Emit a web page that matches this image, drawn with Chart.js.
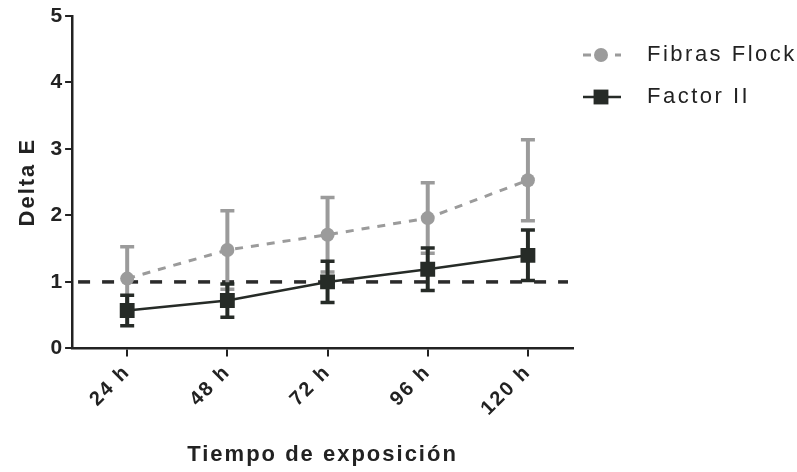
<!DOCTYPE html>
<html><head><meta charset="utf-8">
<script src="https://cdn.jsdelivr.net/npm/chart.js@4/dist/chart.umd.min.js"></script>
<style>html,body{margin:0;padding:0;background:#fff}</style>
</head><body>
<canvas id="c" width="797" height="472"></canvas>
<script>
const categories = ['24 h', '48 h', '72 h', '96 h', '120 h'];
const seriesNames = ['Fibras Flock', 'Factor II'];
const fibrasMean = [1.05, 1.48, 1.71, 1.96, 2.53];
const fibrasErr = [0.48, 0.59, 0.56, 0.53, 0.61];
const factorMean = [0.57, 0.72, 1.00, 1.19, 1.40];
const factorErr = [0.23, 0.25, 0.31, 0.32, 0.38];
const yTicks = [0, 1, 2, 3, 4, 5];
const referenceLevel = 1;
const xTitle = 'Tiempo de exposición';
const yTitle = 'Delta E';

const INK = '#222222';
const GRAY = '#9b9b9b';
const DARK = '#262b27';
const FONT = '"Liberation Sans", Arial, sans-serif';

const toPoints = arr => arr.map((v, i) => ({ x: i, y: v }));

const spacing = {
  id: 'spacing',
  beforeUpdate(chart) { chart.ctx.letterSpacing = '2px'; },
  beforeDraw(chart) { chart.ctx.letterSpacing = '2px'; }
};

const errorBars = {
  id: 'errorBars',
  beforeDatasetsDraw(chart) {
    const { ctx, scales: { x, y } } = chart;
    const ry = y.getPixelForValue(referenceLevel);
    ctx.save();
    ctx.strokeStyle = '#2b2b2b';
    ctx.lineWidth = 3.5;
    ctx.setLineDash([12, 12]);
    ctx.beginPath();
    ctx.moveTo(chart.chartArea.left + 6, ry);
    ctx.lineTo(chart.chartArea.right - 5, ry);
    ctx.stroke();
    ctx.setLineDash([]);
    chart.data.datasets.forEach(ds => {
      ctx.strokeStyle = ds.borderColor;
      ds.errors.forEach((e, i) => {
        const m = ds.data[i].y;
        const px = x.getPixelForValue(i);
        const t = y.getPixelForValue(m + e);
        const b = y.getPixelForValue(m - e);
        ctx.lineWidth = 4;
        ctx.beginPath();
        ctx.moveTo(px, t); ctx.lineTo(px, b);
        ctx.stroke();
        ctx.lineWidth = 3.5;
        ctx.beginPath();
        ctx.moveTo(px - 7, t); ctx.lineTo(px + 7, t);
        ctx.moveTo(px - 7, b); ctx.lineTo(px + 7, b);
        ctx.stroke();
      });
    });
    ctx.restore();
  }
};

const customLegend = {
  id: 'customLegend',
  afterDraw(chart) {
    const { ctx } = chart;
    const rows = [55, 97];
    ctx.save();
    chart.data.datasets.forEach((ds, k) => {
      const yy = rows[k];
      ctx.strokeStyle = ds.borderColor;
      ctx.lineWidth = ds.borderWidth;
      ctx.setLineDash(ds.borderDash || []);
      ctx.beginPath();
      ctx.moveTo(583, yy); ctx.lineTo(621, yy);
      ctx.stroke();
      ctx.setLineDash([]);
      ctx.fillStyle = ds.pointBackgroundColor;
      ctx.beginPath();
      if (ds.pointStyle === 'rect') {
        const s = ds.pointRadius * Math.SQRT1_2;
        ctx.rect(601 - s, yy - s, 2 * s, 2 * s);
      } else {
        ctx.arc(601, yy, ds.pointRadius, 0, Math.PI * 2);
      }
      ctx.fill();
      ctx.fillStyle = INK;
      ctx.font = '22px ' + FONT;
      ctx.letterSpacing = '2.5px';
      ctx.textBaseline = 'middle';
      ctx.fillText(ds.label, 647, yy);
    });
    ctx.restore();
  }
};

new Chart(document.getElementById('c'), {
  type: 'line',
  data: {
    datasets: [
      {
        label: seriesNames[0],
        data: toPoints(fibrasMean),
        errors: fibrasErr,
        borderColor: GRAY,
        backgroundColor: GRAY,
        pointBackgroundColor: GRAY,
        pointBorderColor: GRAY,
        borderWidth: 3,
        borderDash: [8, 8],
        pointStyle: 'circle',
        pointRadius: 7,
        pointBorderWidth: 0,
        tension: 0
      },
      {
        label: seriesNames[1],
        data: toPoints(factorMean),
        errors: factorErr,
        borderColor: DARK,
        backgroundColor: DARK,
        pointBackgroundColor: DARK,
        pointBorderColor: DARK,
        borderWidth: 2.5,
        pointStyle: 'rect',
        pointRadius: 10.5,
        pointBorderWidth: 0,
        tension: 0
      }
    ]
  },
  options: {
    responsive: false,
    animation: false,
    devicePixelRatio: 1,
    layout: { padding: { left: 15, right: 224, top: 16, bottom: 4 } },
    plugins: { legend: { display: false }, tooltip: { enabled: false } },
    scales: {
      x: {
        type: 'linear',
        min: -0.55,
        max: 4.45,
        afterBuildTicks: s => { s.ticks = categories.map((_, i) => ({ value: i })); },
        ticks: {
          callback: v => categories[v],
          minRotation: 45, maxRotation: 45,
          color: INK,
          font: { family: FONT, size: 20, weight: 'bold' },
          padding: 4
        },
        grid: { drawOnChartArea: false, drawTicks: true, tickLength: 8, color: INK, lineWidth: 2 },
        border: { display: true, color: INK, width: 2.5 },
        title: { display: true, text: xTitle, color: INK, font: { family: FONT, size: 22, weight: 'bold' }, padding: { top: 17, bottom: 0 } }
      },
      y: {
        min: 0,
        max: 5,
        afterBuildTicks: s => { s.ticks = yTicks.map(v => ({ value: v })); },
        ticks: {
          color: INK,
          font: { family: FONT, size: 21, weight: 'bold' },
          padding: 1
        },
        grid: { drawOnChartArea: false, drawTicks: true, tickLength: 7, color: INK, lineWidth: 2 },
        border: { display: true, color: INK, width: 2.5 },
        title: { display: true, text: yTitle, color: INK, font: { family: FONT, size: 22, weight: 'bold' }, padding: { top: 0, bottom: 8 } }
      }
    }
  },
  plugins: [spacing, errorBars, customLegend]
});
</script>
</body></html>
